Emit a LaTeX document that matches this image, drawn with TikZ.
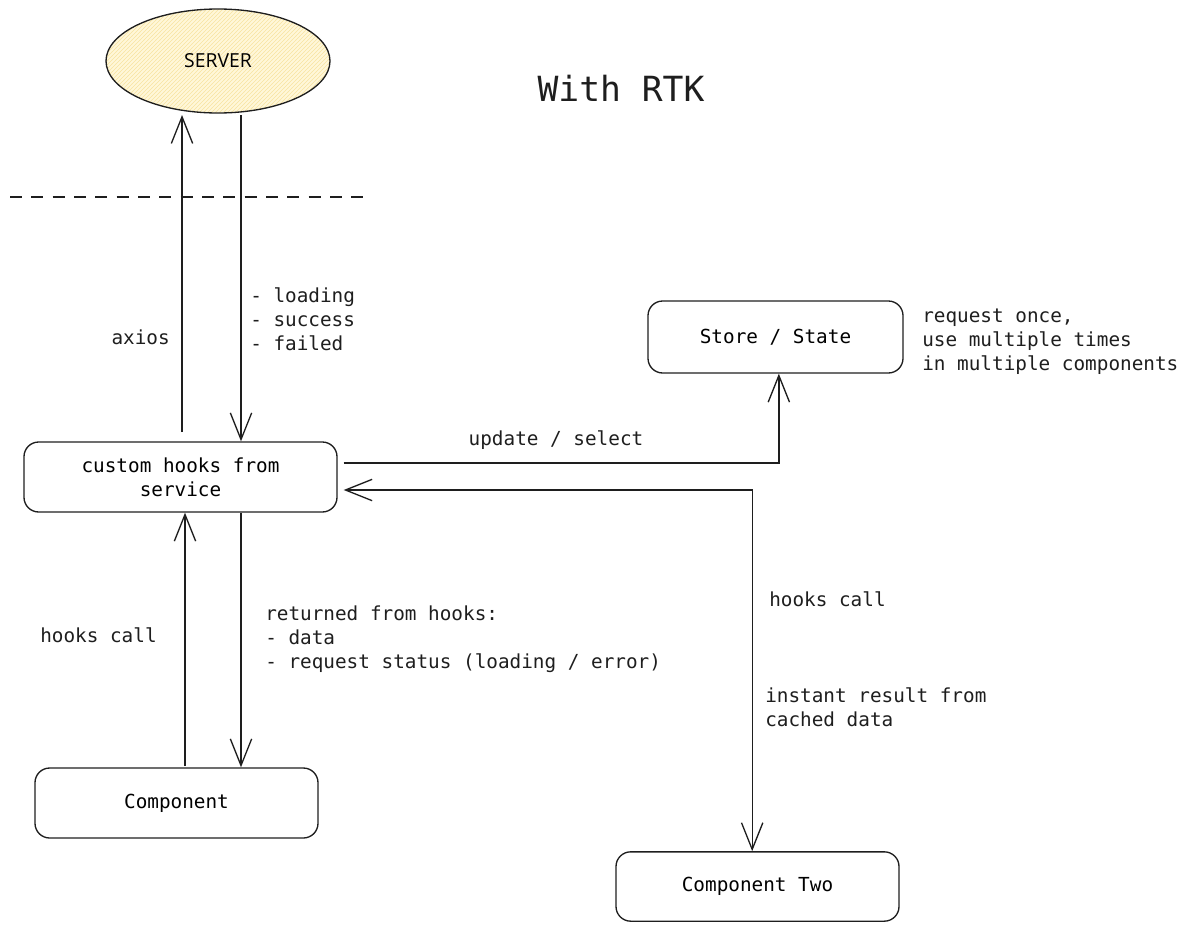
\documentclass[tikz,border=0pt]{standalone}
\usepackage{fontspec}
\setmonofont{DejaVu Sans Mono}
\newfontfamily\srvfont{Open Sans}
\usepackage{tikz}
\usetikzlibrary{positioning}
\usetikzlibrary{arrows.meta}
\usetikzlibrary{shapes.geometric}
\usetikzlibrary{patterns}
\definecolor{ink}{HTML}{1E1E1E}
\definecolor{srvfill}{HTML}{FFF7D9}
\definecolor{srvhatch}{HTML}{F7E3A0}
\newcommand{\txtfont}{\ttfamily\fontsize{14.5}{18}\selectfont}

\begin{document}
\begin{tikzpicture}[x=0.75pt,y=-0.75pt,
    box/.style={shape=rectangle,rounded corners=11pt,draw=ink,line width=1pt,align=center,font=\txtfont},
    lbl/.style={inner sep=0pt,align=left,text=ink,font=\txtfont},
    arr/.style={draw=ink,line width=1pt,-{Straight Barb[length=20pt,width=16pt,line width=1pt]}},
    arrs/.style={draw=ink,line width=1pt,{Straight Barb[length=20pt,width=16pt,line width=1pt]}-{Straight Barb[length=20pt,width=16pt,line width=1pt]}}]
    \useasboundingbox (0,0) rectangle (1191,932);

    \node[shape=ellipse,draw=ink,line width=1pt,minimum width=168pt,minimum height=78pt,
          preaction={fill=srvfill},pattern=north east lines,pattern color=srvhatch,
          font=\srvfont\fontsize{14.5}{17}\selectfont] (Server) at (218,61) {SERVER};
    \node[text=ink,font=\ttfamily\fontsize{26}{30}\selectfont] (Title) at (621,88) {With RTK};

    \node[box,minimum width=234.75pt,minimum height=52.5pt] (Hooks) at (180.5,477) {custom hooks from\\service};
    \node[box,minimum width=191.25pt,minimum height=54pt] (Store) at (775.5,337) {Store / State};
    \node[box,minimum width=212.25pt,minimum height=52.5pt] (Comp) at (176.5,803) {Component};
    \node[box,minimum width=212.25pt,minimum height=52pt] (Comp_Two) at (757.5,886.5) {Component Two};

    \coordinate (ax_top) at (182,115);
    \coordinate (st_top) at (241,115);

    % server side
    \draw[ink,line width=1pt,dash pattern=on 9pt off 7pt] (10,197) -- (370,197);
    \draw[arr] ([yshift=7pt]Hooks.north -| ax_top) -- (ax_top);
    \draw[arr] (st_top) -- (Hooks.north -| st_top);
    \node[lbl,anchor=east] (Axios) at (170,337) {axios};
    \node[lbl,anchor=west] (Status) at (250,319) {- loading\\- success\\- failed};

    % store
    \draw[arr] ([xshift=4.5pt,yshift=10.5pt]Hooks.east) -| ([xshift=2.5pt]Store.south);
    \node[lbl] (Upd) at (556,440) {update / select};
    \node[lbl,anchor=west] (Note) at (922,342) {request once,\\use multiple times\\in multiple components};

    % component
    \draw[arr] ([yshift=1pt]Comp.north -| 185,0) -- (Hooks.south -| 185,0);
    \draw[arr] (Hooks.south -| 241,0) -- (Comp.north -| 241,0);
    \node[lbl,anchor=west] (Call_L) at (40,635) {hooks call};
    \node[lbl,anchor=west] (Ret) at (265,639) {returned from hooks:\\- data\\- request status (loading / error)};

    % component two
    \draw[arrs] ([xshift=4.5pt,yshift=-9.75pt]Hooks.east) -| ([xshift=-4pt]Comp_Two.north);
    \node[lbl,anchor=west] (Call_R) at (769,599) {hooks call};
    \node[lbl,anchor=west] (Cached) at (765,707) {instant result from\\cached data};
\end{tikzpicture}
\end{document}
